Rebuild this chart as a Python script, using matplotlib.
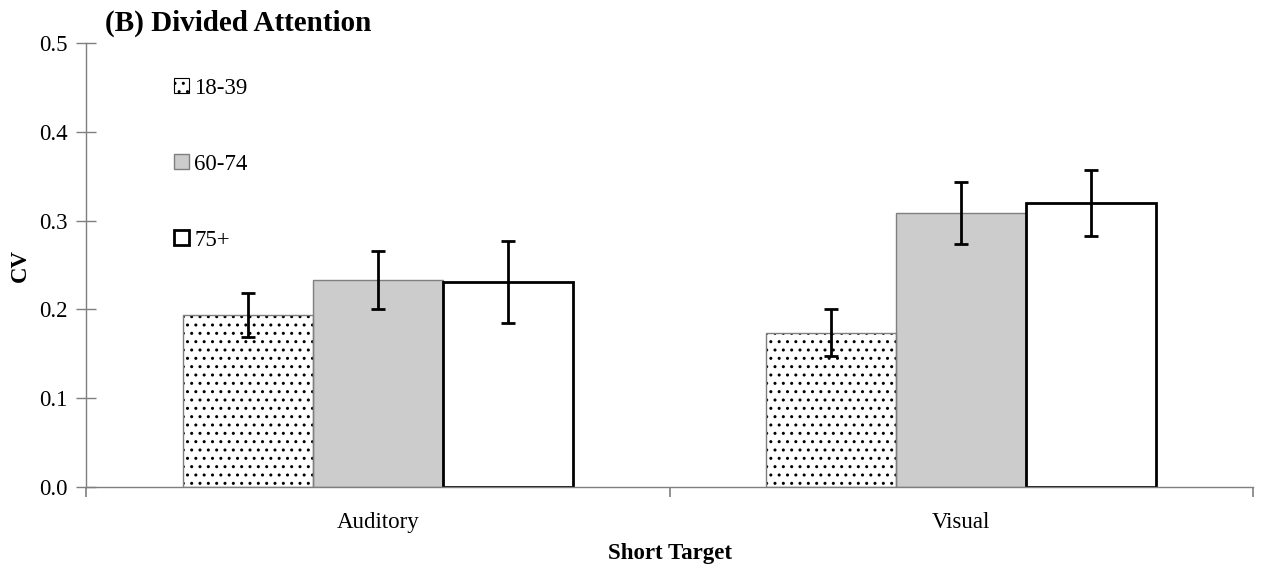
import matplotlib
matplotlib.use("Agg")
import matplotlib.pyplot as plt
from matplotlib.patches import Patch
import numpy as np

plt.rcParams['font.family'] = ['Liberation Serif', 'DejaVu Serif']
plt.rcParams['hatch.linewidth'] = 1.0

categories = ["Auditory", "Visual"]
groups = ["18-39", "60-74", "75+"]
cv_means = {
    "18-39": [0.194, 0.174],
    "60-74": [0.233, 0.309],
    "75+":   [0.231, 0.320],
}
cv_errors = {
    "18-39": [0.025, 0.026],
    "60-74": [0.033, 0.035],
    "75+":   [0.046, 0.037],
}

styles = {
    "18-39": dict(facecolor="white", edgecolor="#7f7f7f", linewidth=1.0),
    "60-74": dict(facecolor="#cccccc", edgecolor="#7f7f7f", linewidth=1.0),
    "75+":   dict(facecolor="white", edgecolor="black", linewidth=2.0),
}
dotted = {"18-39"}

fig = plt.figure(figsize=(12.65, 5.71), dpi=100)
ax = fig.add_axes([0.068, 0.147, 0.9225, 0.7777])

x = np.arange(len(categories))
width = 0.223
offsets = [-width, 0.0, width]

handles = []
for g, off in zip(groups, offsets):
    st = styles[g]
    if g in dotted:
        # black dot fill underneath, gray outline on top
        ax.bar(x + off, cv_means[g], width=width, facecolor="white",
               edgecolor="black", linewidth=0, hatch="..", zorder=2)
        ax.bar(x + off, cv_means[g], width=width, facecolor="none",
               edgecolor=st["edgecolor"], linewidth=st["linewidth"], zorder=2.1)
        handles.append(Patch(facecolor="white", edgecolor="black", hatch="..",
                             linewidth=0.8, label=g))
    else:
        ax.bar(x + off, cv_means[g], width=width, zorder=2, **st)
        handles.append(Patch(label=g, **st))
    ax.errorbar(x + off, cv_means[g], yerr=cv_errors[g], fmt="none",
                ecolor="black", elinewidth=2, capsize=5, capthick=2, zorder=3)

ax.set_xlim(-0.5, len(categories) - 0.5)
ax.set_ylim(0, 0.5)
yt = np.arange(0, 0.51, 0.1)
ax.set_yticks(yt)
ax.set_yticklabels([f"{v:.1f}" for v in yt])
ax.set_xticks(x)
ax.set_xticklabels(categories)
ax.set_xticks(np.arange(-0.5, len(categories), 1.0), minor=True)

ax.tick_params(axis="x", which="major", length=0, labelsize=16.5, pad=18)
ax.tick_params(axis="x", which="minor", direction="out", length=7, width=1.2, color="#7f7f7f")
ax.tick_params(axis="y", direction="inout", length=14, width=1.0, color="#7f7f7f", labelsize=16.5, pad=6)

for s in ["top", "right"]:
    ax.spines[s].set_visible(False)
for s in ["left", "bottom"]:
    ax.spines[s].set_color("#7f7f7f")
    ax.spines[s].set_linewidth(1.0)

ax.set_ylabel("CV", fontsize=16.5, fontweight="bold", labelpad=6)
ax.set_xlabel("Short Target", fontsize=16.5, fontweight="bold", labelpad=7)

fig.text(0.083, 0.96, "(B) Divided Attention", fontsize=21, fontweight="bold",
         ha="left", va="center")

ax.legend(handles=handles, loc="upper left", bbox_to_anchor=(0.066, 0.948),
          frameon=False, fontsize=16.5, handlelength=0.62, handleheight=0.62,
          handletextpad=0.25, labelspacing=2.4, borderpad=0)

fig.savefig("out.png", dpi=100)
